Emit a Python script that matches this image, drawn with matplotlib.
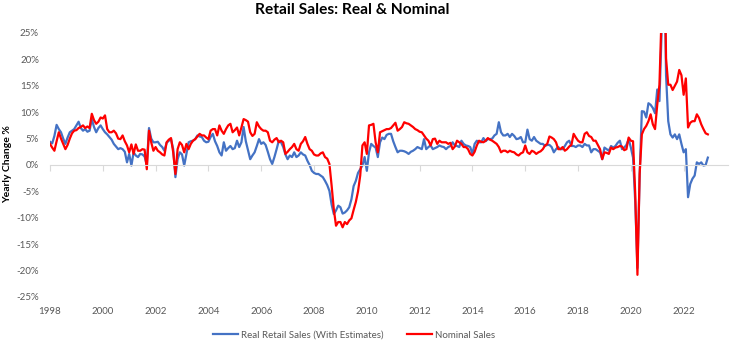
import numpy as np
import pandas as pd
import matplotlib
matplotlib.use("Agg")
import matplotlib.pyplot as plt
from matplotlib.ticker import FuncFormatter

plt.rcParams['font.family'] = ['Lato', 'DejaVu Sans']

# --- Data: year-over-year % change, monthly Jan 1998 - Dec 2022 ---
months = pd.date_range('1998-01-01', '2022-12-01', freq='MS')

real_sales = [
    4.4, 4.1, 5.5, 7.6, 6.8, 6.2, 5.0, 4.0, 5.2, 6.2, 6.5, 6.8,          # 1998
    7.5, 8.2, 7.0, 6.5, 6.8, 6.3, 6.5, 8.7, 7.2, 6.2, 7.0, 7.5,          # 1999
    6.8, 6.2, 5.8, 5.3, 4.8, 4.0, 3.5, 3.0, 3.2, 3.0, 2.5, 0.5,          # 2000
    2.1, -0.1, 2.4, 1.8, 1.5, 2.1, 2.0, 1.6, 0.0, 7.0, 5.0, 4.3,         # 2001
    4.3, 4.4, 3.8, 3.4, 2.7, 4.2, 4.6, 4.9, 3.0, -2.3, 1.1, 2.4,         # 2002
    2.0, -0.1, 2.1, 4.3, 4.5, 4.6, 4.9, 5.6, 5.4, 5.3, 4.6, 4.3,         # 2003
    4.4, 5.3, 5.9, 4.5, 3.6, 2.4, 1.8, 4.3, 2.7, 3.2, 3.6, 3.0,          # 2004
    3.2, 4.6, 3.4, 4.3, 7.2, 4.5, 2.8, 1.1, 1.8, 2.4, 3.6, 4.9,          # 2005
    4.0, 4.3, 3.8, 2.5, 1.1, 0.2, 1.5, 3.0, 4.6, 4.3, 3.4, 2.0,          # 2006
    1.1, 1.8, 1.5, 2.4, 1.5, 1.8, 2.4, 2.0, 1.8, 0.8, 0.0, -1.1,         # 2007
    -1.5, -1.7, -1.7, -2.0, -2.3, -3.0, -3.8, -4.9, -7.5, -9.3, -8.6, -7.7,  # 2008
    -8.0, -9.2, -9.0, -8.6, -8.0, -6.5, -4.0, -3.0, -1.5, -0.8, -0.1, 1.5,   # 2009
    -1.1, 2.4, 4.0, 3.6, 3.3, 1.5, 4.3, 5.2, 4.9, 5.7, 5.9, 5.9,         # 2010
    4.5, 3.4, 2.4, 2.7, 2.7, 2.6, 2.4, 2.1, 2.5, 2.7, 3.0, 3.4,          # 2011
    3.2, 3.0, 4.9, 3.0, 3.4, 3.7, 3.0, 3.2, 3.4, 3.7, 3.5, 3.4,          # 2012
    3.0, 3.4, 3.6, 4.3, 3.7, 3.6, 3.4, 4.6, 4.0, 3.7, 3.6, 3.4,          # 2013
    2.1, 4.0, 4.6, 4.3, 4.3, 5.1, 4.5, 4.9, 4.9, 5.0, 5.6, 5.9,          # 2014
    8.1, 6.2, 5.6, 5.6, 5.9, 5.3, 5.9, 5.5, 4.9, 5.0, 5.3, 4.3,          # 2015
    4.3, 6.7, 4.9, 4.6, 5.3, 4.6, 4.3, 4.0, 4.0, 3.6, 3.8, 3.8,          # 2016
    3.4, 2.4, 3.0, 3.4, 3.0, 3.0, 3.6, 4.3, 4.6, 3.6, 3.6, 3.4,          # 2017
    3.7, 3.7, 3.4, 4.0, 3.7, 3.7, 2.4, 3.0, 3.0, 2.7, 2.4, 1.1,          # 2018
    3.3, 3.0, 2.7, 3.6, 3.3, 3.6, 4.2, 4.6, 3.0, 3.3, 3.8, 4.9,          # 2019
    3.3, 1.4, -7.0, -19.5, -2.0, 10.2, 10.1, 9.0, 11.7, 11.4, 10.8, 9.8,  # 2020
    14.3, 12.1, 25.5, 45.0, 17.0, 8.3, 5.8, 5.2, 5.8, 4.9, 5.8, 4.0,     # 2021
    2.4, 3.0, -6.1, -3.6, -2.6, -2.0, 0.5, 0.2, 0.5, -0.1, 0.0, 1.4,     # 2022
]

nominal_sales = [
    4.0, 3.3, 2.7, 4.5, 6.2, 5.0, 4.0, 3.0, 3.8, 5.0, 6.0, 6.5,          # 1998
    6.6, 7.0, 7.2, 7.5, 7.0, 7.3, 7.0, 9.7, 8.5, 7.8, 8.2, 9.0,          # 1999
    8.8, 9.4, 6.8, 6.2, 6.2, 6.5, 6.0, 5.0, 4.9, 5.6, 4.5, 3.7,          # 2000
    2.4, 3.9, 2.1, 3.9, 2.7, 2.7, 3.0, 2.9, -0.8, 6.5, 4.3, 2.7,         # 2001
    3.4, 2.7, 2.4, 2.0, 1.8, 4.3, 4.8, 5.1, 2.4, -1.7, 3.0, 4.3,         # 2002
    3.8, 2.4, 4.0, 3.0, 4.0, 4.6, 4.9, 5.4, 5.9, 5.6, 5.6, 5.2,          # 2003
    4.9, 6.5, 6.8, 6.8, 5.6, 7.5, 6.5, 5.9, 6.8, 7.5, 7.8, 6.2,          # 2004
    6.6, 7.1, 5.6, 7.1, 8.7, 8.5, 8.2, 6.2, 5.5, 5.9, 8.1, 7.3,          # 2005
    6.8, 6.5, 6.5, 6.2, 4.6, 4.3, 4.8, 5.1, 4.3, 4.6, 4.3, 2.1,          # 2006
    2.5, 3.0, 3.4, 4.0, 3.0, 2.7, 4.0, 4.5, 5.3, 4.0, 3.0, 2.7,          # 2007
    2.0, 1.8, 1.8, 2.2, 2.4, 1.5, 1.2, 0.2, -3.9, -8.4, -11.5, -10.8,    # 2008
    -10.8, -11.8, -10.8, -11.2, -10.5, -10.1, -8.5, -7.0, -5.0, -2.0, 3.7, 4.3,  # 2009
    2.1, 7.5, 7.6, 7.8, 4.3, 2.4, 6.2, 6.4, 6.6, 6.8, 6.8, 7.0,          # 2010
    7.5, 8.0, 6.5, 6.8, 7.2, 8.1, 7.9, 7.8, 7.5, 7.2, 6.8, 6.6,          # 2011
    6.3, 6.2, 5.6, 5.0, 4.6, 3.7, 4.9, 5.0, 4.0, 4.6, 4.3, 4.3,          # 2012
    4.3, 4.0, 4.2, 3.0, 3.5, 4.6, 4.3, 4.0, 3.4, 3.4, 3.0, 2.1,          # 2013
    1.8, 2.5, 3.7, 4.6, 4.4, 4.3, 4.6, 5.1, 4.8, 4.6, 4.3, 4.0,          # 2014
    3.4, 2.4, 2.7, 2.7, 2.4, 2.7, 2.5, 2.4, 2.0, 1.8, 2.2, 2.4,          # 2015
    3.7, 2.4, 2.1, 2.7, 2.5, 2.1, 2.4, 2.6, 3.0, 3.7, 4.0, 5.4,          # 2016
    5.2, 4.9, 4.3, 3.0, 3.0, 3.4, 2.7, 3.0, 3.5, 3.8, 5.9, 5.2,          # 2017
    4.6, 4.3, 4.3, 5.9, 6.2, 5.5, 5.3, 4.6, 4.6, 3.8, 3.0, 1.1,          # 2018
    2.4, 2.3, 2.1, 3.3, 3.0, 3.3, 3.4, 3.6, 3.5, 2.8, 3.0, 5.2,          # 2019
    4.6, 4.5, -5.5, -20.8, -1.7, 5.8, 6.8, 7.4, 8.3, 9.6, 7.7, 6.8,      # 2020
    11.4, 15.2, 29.0, 51.0, 20.2, 15.2, 15.2, 14.2, 15.0, 15.8, 18.0, 17.0,  # 2021
    13.3, 16.4, 7.1, 8.0, 8.3, 8.3, 9.6, 8.9, 7.7, 6.8, 6.0, 5.8,        # 2022
]

tick_years = list(range(1998, 2023, 2))

# decimal years for a plain numeric x axis
t = months.year + (months.month - 1) / 12.0

fig = plt.figure(figsize=(7.34, 3.52), dpi=100)
ax = fig.add_axes([50 / 734, 1 - 297 / 352, 678 / 734, 264 / 352])

ax.plot(t, real_sales, color='#4472C4', lw=1.6, label='Real Retail Sales (With Estimates)')
ax.plot(t, nominal_sales, color='#FF0000', lw=1.6, label='Nominal Sales')

ax.set_xlim(1998, 2023.68)
ax.set_ylim(-25, 25)

# zero line carries the year ticks, labels sit under the plot
for s in ['top', 'right', 'left']:
    ax.spines[s].set_visible(False)
ax.spines['bottom'].set_position(('data', 0))
ax.spines['bottom'].set_color('#D9D9D9')
ax.spines['bottom'].set_linewidth(0.8)
ax.set_xticks(tick_years)
ax.tick_params(axis='x', direction='out', length=4, width=0.8, color='#D9D9D9', labelbottom=False)

sec = ax.secondary_xaxis('bottom')
sec.set_xticks(tick_years)
sec.set_xticklabels([str(y) for y in tick_years])
sec.tick_params(length=0, pad=7, labelsize=7, labelcolor='#595959')
sec.spines['bottom'].set_visible(False)

ax.set_yticks(range(-25, 26, 5))
ax.yaxis.set_major_formatter(FuncFormatter(lambda v, p: f'{v:.0f}%'))
ax.tick_params(axis='y', length=0, pad=8, labelsize=7, labelcolor='#595959')

fig.text(352 / 734, 1 - 10 / 352, 'Retail Sales: Real & Nominal', ha='center', va='center',
         fontsize=11.2, fontweight='bold')
fig.text(8 / 734, 1 - 164 / 352, 'Yearly Change %', rotation=90, ha='center', va='center',
         fontsize=7.5, fontweight='bold')

ax.legend(loc='center', bbox_to_anchor=(354 / 734, 1 - 335 / 352), bbox_transform=fig.transFigure,
          ncol=2, frameon=False, fontsize=7, handlelength=2.6, handletextpad=0.3,
          columnspacing=2.4, labelcolor='#595959')

fig.savefig('out.png', dpi=100)
